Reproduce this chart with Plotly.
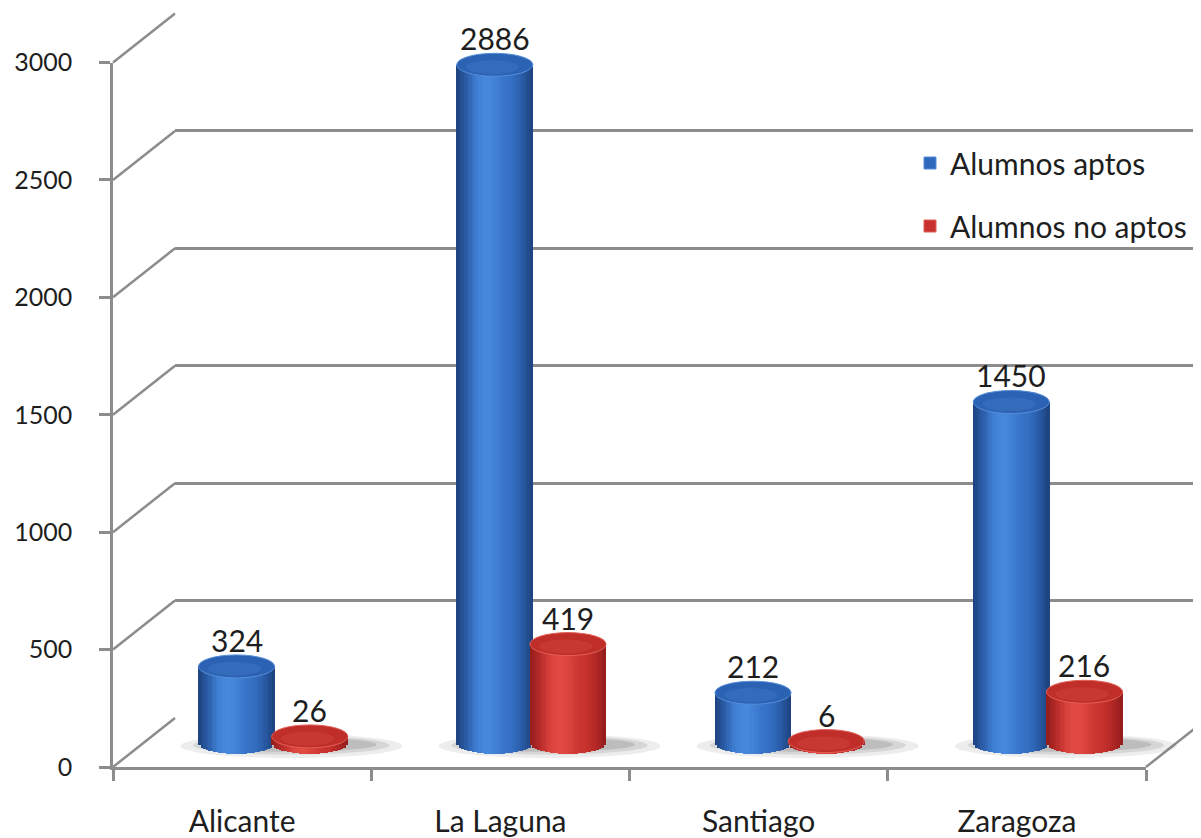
import math
import plotly.graph_objects as go

# ---------------- data ----------------
categories = ["Alicante", "La Laguna", "Santiago", "Zaragoza"]
aptos = [324, 2886, 212, 1450]
no_aptos = [26, 419, 6, 216]
series_names = ["Alumnos aptos", "Alumnos no aptos"]
y_ticks = [0, 500, 1000, 1500, 2000, 2500, 3000]

# ---------------- geometry / style ----------------
OX, OY = 8, 8                         # page body margin
W, H = 1201 - OX, 838 - OY
def px(x): return (x - OX) / W
def py(y): return (H - (y - OY)) / H

FONT = "Lato"
TXT = "#1e1e1e"
GRID = "#8c8c8c"
YMAX = 3000
SCALE = (767 - 62.5) / YMAX          # pixels per unit
FRONT_L, FRONT_R, FRONT_B = 113, 1146, 767
DX, DY = 62, 49                       # depth offset (back wall)
MDX, MDY = 31, 24.5                   # mid depth (bars)
YLOW = -100                           # room for rounded bottoms

BAR_W = 0.295
OFF = 0.1418
E_PX = 11.5
E = E_PX / SCALE                      # ellipse half-height in data units
NSTRIP = 30

styles = [
    dict(edge=(28, 64, 124), mid=(50, 108, 192), light=(70, 136, 220),
         top="rgb(44,98,180)", rim="rgb(86,142,215)", legend="rgb(47,105,190)"),
    dict(edge=(145, 28, 28), mid=(198, 48, 44), light=(224, 74, 66),
         top="rgb(192,46,42)", rim="rgb(226,96,88)", legend="rgb(200,50,46)"),
]

def shade(st, u):
    td = (max(0.0, abs(u) - 0.45) / 0.55) ** 1.4
    tl = math.exp(-((u + 0.2) / 0.42) ** 2) * (1 - td)
    c = [m + (l - m) * tl + (e - m) * td for e, m, l in zip(st["edge"], st["mid"], st["light"])]
    return "rgb(%d,%d,%d)" % tuple(round(v) for v in c)

fig = go.Figure()

# front subplot (category axis + value axis)
fig.add_trace(go.Scatter(x=categories, y=[None] * len(categories), mode="markers",
                         showlegend=False, hoverinfo="skip", xaxis="x", yaxis="y"))
# back wall subplot (gridlines)
fig.add_trace(go.Scatter(x=[0], y=[None], mode="markers", showlegend=False,
                         hoverinfo="skip", xaxis="x2", yaxis="y2"))

shapes = []
annotations = []

# floor shadows
for i in range(len(categories)):
    for sw, sh, op in [(0.86, 1.35, 0.10), (0.76, 1.05, 0.14), (0.66, 0.8, 0.18)]:
        shapes.append(dict(type="circle", xref="x3", yref="y3", layer="below",
                           x0=i + 0.07 - sw / 2, x1=i + 0.07 + sw / 2,
                           y0=-E * sh, y1=E * sh * 0.55,
                           fillcolor="rgba(80,80,80,%.2f)" % op, line=dict(width=0)))

for s, (vals, name) in enumerate(zip([aptos, no_aptos], series_names)):
    st = styles[s]
    off = -OFF if s == 0 else OFF
    xs, ys, bases, cols = [], [], [], []
    for i, v in enumerate(vals):
        c = i + off
        for k in range(NSTRIP):
            u = -1 + (2 * k + 1) / NSTRIP
            b = E * math.sqrt(max(0.0, 1 - u * u))
            xs.append(c + u * BAR_W / 2)
            bases.append(-b)
            ys.append(v + b)
            cols.append(shade(st, u))
        # top ellipse
        shapes.append(dict(type="circle", xref="x3", yref="y3", layer="above",
                           x0=c - BAR_W / 2, x1=c + BAR_W / 2, y0=v - E, y1=v + E,
                           fillcolor=st["top"], line=dict(color=st["rim"], width=1)))
        shapes.append(dict(type="circle", xref="x3", yref="y3", layer="above",
                           x0=c - BAR_W * 0.38, x1=c + BAR_W * 0.32, y0=v - E * 0.8, y1=v + E * 0.4,
                           fillcolor=st["rim"], opacity=0.22, line=dict(width=0)))
        annotations.append(dict(x=c, y=v, xref="x3", yref="y3", text=str(v), showarrow=False,
                                yshift=E_PX + 15, font=dict(family=FONT, size=30, color=TXT)))
    fig.add_trace(go.Bar(x=xs, y=ys, base=bases, width=BAR_W / NSTRIP * 1.25,
                         marker=dict(color=cols, line=dict(width=0)),
                         showlegend=False, hoverinfo="skip", xaxis="x3", yaxis="y3"))
    fig.add_trace(go.Bar(x=[None], y=[None], name=name, legendgroup=name,
                         marker=dict(color=st["legend"], line=dict(color=st["rim"], width=1)),
                         xaxis="x3", yaxis="y3"))

# left wall diagonals + right floor edge
for v in y_ticks:
    shapes.append(dict(type="line", xref="paper", yref="paper", layer="below",
                       x0=px(FRONT_L), y0=py(FRONT_B - v * SCALE),
                       x1=px(FRONT_L + DX), y1=py(FRONT_B - DY - v * SCALE),
                       line=dict(color=GRID, width=2.5)))
shapes.append(dict(type="line", xref="paper", yref="paper", layer="below",
                   x0=px(FRONT_R), y0=py(FRONT_B), x1=px(FRONT_R + DX), y1=py(FRONT_B - DY),
                   line=dict(color=GRID, width=2.5)))

fig.update_layout(
    width=W, height=H, margin=dict(l=0, r=0, t=0, b=0, autoexpand=False),
    paper_bgcolor="white", plot_bgcolor="rgba(0,0,0,0)",
    barmode="overlay", bargap=0,
    showlegend=True,
    legend=dict(x=px(910), y=py(137), xanchor="left", yanchor="top",
                font=dict(family=FONT, size=30, color=TXT), bgcolor="rgba(0,0,0,0)",
                tracegroupgap=21, itemclick=False),
    xaxis=dict(domain=[px(FRONT_L), px(FRONT_R)], anchor="y", type="category", automargin=False,
               range=[-0.5, 3.5], tickson="boundaries", ticks="outside", ticklen=11,
               tickwidth=2.5, tickcolor=GRID, showline=True, linecolor=GRID, linewidth=2.5,
               showgrid=False, zeroline=False, ticklabelstandoff=26,
               tickfont=dict(family=FONT, size=30, color=TXT)),
    yaxis=dict(domain=[py(FRONT_B), py(FRONT_B - YMAX * SCALE)], anchor="x", automargin=False,
               range=[0, YMAX], tickvals=y_ticks, ticks="outside", ticklen=11, tickwidth=2.5,
               tickcolor=GRID, showline=True, linecolor=GRID, linewidth=2.5, showgrid=False,
               zeroline=False, ticklabelstandoff=22,
               tickfont=dict(family=FONT, size=25, color=TXT)),
    xaxis2=dict(domain=[px(FRONT_L + DX), 1.0], anchor="y2", visible=False, range=[0, 1],
                automargin=False),
    yaxis2=dict(domain=[py(FRONT_B - DY), py(FRONT_B - DY - YMAX * SCALE)], anchor="x2",
                range=[0, YMAX], tickvals=y_ticks, showgrid=True, gridcolor=GRID, gridwidth=2.5,
                showticklabels=False, ticks="", zeroline=False, showline=False, automargin=False),
    xaxis3=dict(domain=[px(FRONT_L + MDX), px(FRONT_R + MDX)], anchor="y3", visible=False,
                range=[-0.5, 3.5], automargin=False),
    yaxis3=dict(domain=[py(FRONT_B - MDY - YLOW * SCALE), py(FRONT_B - MDY - YMAX * SCALE)],
                anchor="x3", visible=False, range=[YLOW, YMAX], automargin=False),
    shapes=shapes, annotations=annotations,
)

fig.write_html("out.html")
